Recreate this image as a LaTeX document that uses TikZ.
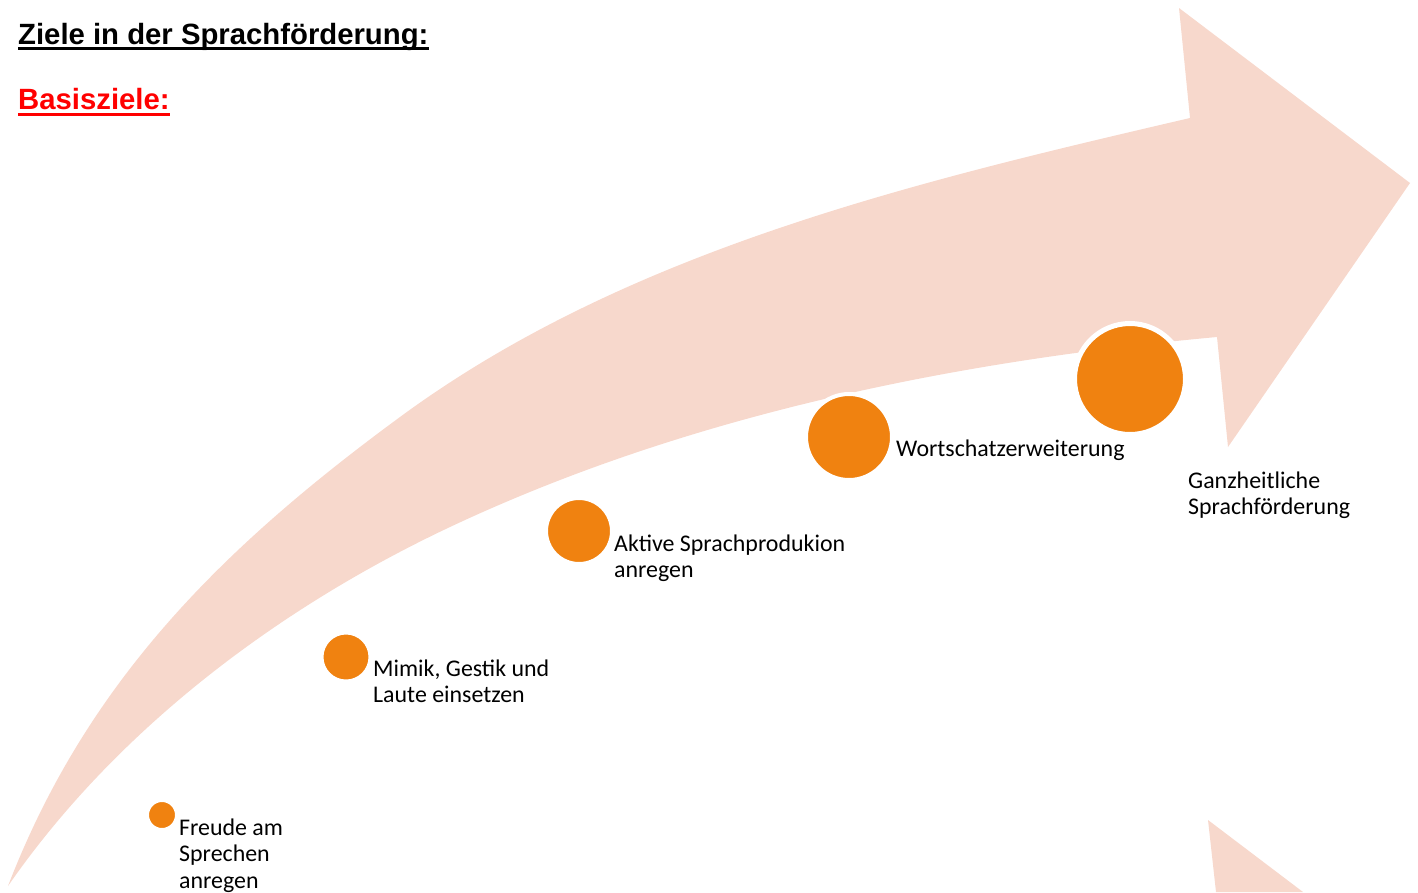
\documentclass[tikz,border=0pt]{standalone}
\usepackage{fontspec}
\setmainfont{Carlito}
\newfontfamily\headfont{Liberation Sans}
\usetikzlibrary{calc}
\definecolor{arrowpeach}{HTML}{F7D8CC}
\definecolor{dotorange}{HTML}{F08210}
\definecolor{headred}{HTML}{FF0000}

\begin{document}
\begin{tikzpicture}[x=1pt,y=-1pt,
  dot/.style={circle, fill=dotorange, draw=white, inner sep=0pt, outer sep=0pt},
  lbl/.style={anchor=base west, inner sep=0pt, font=\fontsize{23.9}{26.5}\selectfont},
  head/.style={anchor=base west, inner sep=0pt, font=\headfont\bfseries\fontsize{29.3}{35}\selectfont},
  uline/.style={line width=3pt}]
\useasboundingbox (0,0) rectangle (1418,892);
\clip (0,0) rectangle (1418,892);

% headings
\node[head] (title) at (18,44) {Ziele in der Sprachförderung:};
\draw[uline] ($(title.base west)+(0,4.5)$) -- ($(title.base east)+(0,4.5)$);
\node[head, text=headred] (basis) at (18,109) {Basisziele:};
\draw[uline, headred] ($(basis.base west)+(0,5)$) -- ($(basis.base east)+(0,5)$);

% curved, tapering arrow
\fill[arrowpeach]
  (8,886) .. controls (87,681) and (223,547) .. (400,417)
          .. controls (627,250) and (915,182) .. (1190,118)
  -- (1179,8) -- (1410,183) -- (1228,447) -- (1217,337)
          .. controls (955,361) and (688,415) .. (450,527)
          .. controls (278,608) and (116,730) .. (8,886)
  -- cycle;

% head of the following arrow
\fill[arrowpeach] (1208,820) -- (1303,892) -- (1216,892) -- cycle;

% milestones
\node[dot, minimum size=29pt, line width=3pt] (c1) at (162,815) {};
\node[dot, minimum size=48pt, line width=3pt] (c2) at (346,657) {};
\node[dot, minimum size=65pt, line width=3pt] (c3) at (579,531) {};
\node[dot, minimum size=86pt, line width=4pt] (c4) at (849,437) {};
\node[dot, minimum size=111pt, line width=5pt] (c5) at (1130,379) {};

% labels
\node[lbl] (t1) at (179,835) {\vtop{\hbox{Freude am}\hbox{Sprechen}\hbox{anregen}}};
\node[lbl] (t2) at (373,676) {\vtop{\hbox{Mimik, Gestik und}\hbox{Laute einsetzen}}};
\node[lbl] (t3) at (614,551) {\vtop{\hbox{Aktive Sprachprodukion}\hbox{anregen}}};
\node[lbl] (t4) at (896,456) {Wortschatzerweiterung};
\node[lbl] (t5) at (1188,488) {\vtop{\hbox{Ganzheitliche}\hbox{Sprachförderung}}};
\end{tikzpicture}
\end{document}
